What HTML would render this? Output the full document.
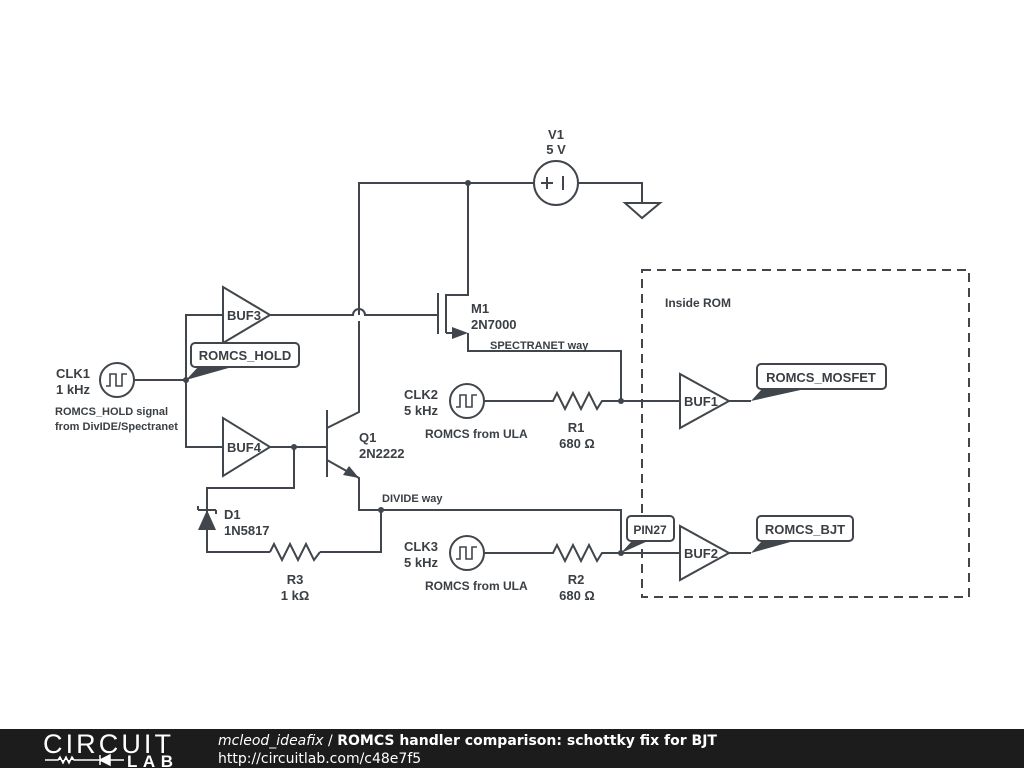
<!DOCTYPE html>
<html><head><meta charset="utf-8"><style>
html,body{margin:0;padding:0;background:#fff;width:1024px;height:768px;overflow:hidden}
svg text{font-family:"Liberation Sans",Arial,sans-serif;font-weight:bold;fill:#3a3f44}
</style></head><body>
<svg width="1024" height="768" viewBox="0 0 1024 768" xmlns="http://www.w3.org/2000/svg">
<path d="M642,270 H969 V597 H642 Z" fill="none" stroke="#40464b" stroke-width="2" stroke-dasharray="9,6"/>
<g fill="none" stroke="#40464b" stroke-width="2">
<!-- top rail -->
<path d="M359,315 V183 H534 M578,183 H642 V203"/>
<path d="M625,203 H660 L642,218 Z"/>
<circle cx="556" cy="183" r="22"/>
<path d="M541,183 H553 M547,177 V189 M563,176 V190"/>
<!-- M1 -->
<path d="M468,183 V295 H446 V333 M438,293 V334 M446,333 H452 M468,333 V351 H621 V401"/>
<path d="M270,315 H353 A6,6 0 0 1 365,315 H438"/>
<!-- Q1 -->
<path d="M359,321 V412 L327,428 M327,410 V477 M327,460 L359,478 V510 H621 V553"/>
<!-- BUF3/BUF4 -->
<path d="M223,287 V343 L270,315 Z M223,418 V476 L270,447 Z"/>
<path d="M223,315 H186 V447 H223 M135,380 H186 M270,447 H327 M294,447 V488 H207 V552 H270 M320,552 H381 V510"/>
<path d="M270,552 l4,-8 8,16 8,-16 8,16 8,-16 8,16 6,-8"/>
<!-- diode -->
<path d="M198,510 H216 M198,510 V506 M216,510 V514"/>
<!-- CLK circles -->
<circle cx="117" cy="380" r="17"/>
<path d="M106,386 H110 V374 H116 V386 H122 V374 H127" stroke-width="1.6"/>
<circle cx="467" cy="401" r="17"/>
<path d="M456,407 H460 V395 H466 V407 H472 V395 H477" stroke-width="1.6"/>
<circle cx="467" cy="553" r="17"/>
<path d="M456,559 H460 V547 H466 V559 H472 V547 H477" stroke-width="1.6"/>
<!-- R1 R2 -->
<path d="M484,401 H553 l4,-8 8,16 8,-16 8,16 8,-16 8,16 5,-8 H680 M484,553 H553 l4,-8 8,16 8,-16 8,16 8,-16 8,16 5,-8 H680"/>
<!-- BUF1 BUF2 -->
<path d="M680,374 V428 L729,401 Z M680,526 V580 L729,553 Z M729,401 H751 M729,553 H751"/>
</g>
<g fill="#fff" stroke="#40464b" stroke-width="2">
<rect x="191" y="343" width="108" height="24" rx="4"/>
<rect x="757" y="364" width="129" height="25" rx="4"/>
<rect x="757" y="516" width="96" height="25" rx="4"/>
<rect x="627" y="516" width="47" height="25" rx="4"/>
</g>
<g fill="#40464b">
<circle cx="468" cy="183" r="3"/>
<circle cx="186" cy="380" r="3"/>
<circle cx="294" cy="447" r="3"/>
<circle cx="381" cy="510" r="3"/>
<circle cx="621" cy="401" r="3"/>
<circle cx="621" cy="553" r="3"/>
<path d="M186,380 L198,367 H232 Z"/>
<path d="M751,401 L762,389 H805 Z"/>
<path d="M751,553 L762,541 H794 Z"/>
<path d="M621,553 L632,541 H648 Z"/>
<path d="M468,333 L452,327 L452,339 Z"/>
<path d="M359,478 L343,475 L349,466 Z"/>
<path d="M207,510 L198,530 H216 Z"/>
</g>
<g font-size="13">
<text x="556" y="139" text-anchor="middle">V1</text>
<text x="556" y="154" text-anchor="middle">5 V</text>
<text x="471" y="313">M1</text>
<text x="471" y="329">2N7000</text>
<text x="56" y="378">CLK1</text>
<text x="56" y="394">1 kHz</text>
<text x="404" y="399">CLK2</text>
<text x="404" y="415">5 kHz</text>
<text x="404" y="551">CLK3</text>
<text x="404" y="567">5 kHz</text>
<text x="576" y="432" text-anchor="middle">R1</text>
<text x="577" y="448" text-anchor="middle">680 Ω</text>
<text x="576" y="584" text-anchor="middle">R2</text>
<text x="577" y="600" text-anchor="middle">680 Ω</text>
<text x="295" y="584" text-anchor="middle">R3</text>
<text x="295" y="600" text-anchor="middle">1 kΩ</text>
<text x="359" y="442">Q1</text>
<text x="359" y="458">2N2222</text>
<text x="224" y="519">D1</text>
<text x="224" y="535">1N5817</text>
<text x="227" y="320">BUF3</text>
<text x="227" y="452">BUF4</text>
<text x="684" y="406">BUF1</text>
<text x="684" y="558">BUF2</text>
<text x="245" y="360" text-anchor="middle">ROMCS_HOLD</text>
<text x="821" y="382" text-anchor="middle">ROMCS_MOSFET</text>
<text x="805" y="534" text-anchor="middle">ROMCS_BJT</text>
<text x="650" y="534" text-anchor="middle" font-size="12">PIN27</text>
<text x="425" y="438" font-size="12">ROMCS from ULA</text>
<text x="425" y="590" font-size="12">ROMCS from ULA</text>
<text x="665" y="307" font-size="12">Inside ROM</text>
</g>
<g font-size="11">
<text x="55" y="415">ROMCS_HOLD signal</text>
<text x="55" y="430">from DivIDE/Spectranet</text>
<text x="490" y="349">SPECTRANET way</text>
<text x="382" y="502">DIVIDE way</text>
</g>
<rect x="0" y="729" width="1024" height="39" fill="#1c1c1c"/>
<text x="43" y="753" font-size="27" style="font-weight:normal;fill:#fff;letter-spacing:2px" textLength="130">CIRCUIT</text>
<path d="M45,760 H58 l2,-3 3,6 3,-6 3,6 3,-6 2,3 H100 M100,755 V765 M100,760 L110,755 V765 Z M110,755 V765 M110,760 H124" stroke="#fff" stroke-width="1.5" fill="#fff"/>
<text x="127" y="767" font-size="17" style="fill:#fff" textLength="46">LAB</text>
<g style="font-family:'DejaVu Sans',sans-serif">
<text x="218" y="745" font-size="14" style="fill:#fff;font-family:'DejaVu Sans',sans-serif"><tspan font-style="italic" style="font-weight:normal">mcleod_ideafix</tspan><tspan style="font-weight:normal"> / </tspan>ROMCS handler comparison: schottky fix for BJT</text>
<text x="218" y="763" font-size="14" style="fill:#fff;font-weight:normal;font-family:'DejaVu Sans',sans-serif">http://circuitlab.com/c48e7f5</text>
</g>
</svg>
</body></html>
